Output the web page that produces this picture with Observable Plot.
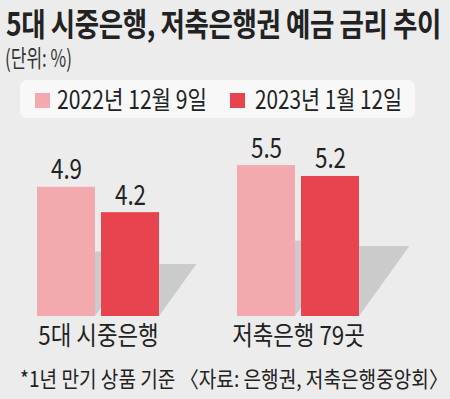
<!DOCTYPE html>
<html>
<head>
<meta charset="utf-8">
<script src="https://cdn.jsdelivr.net/npm/d3@7"></script>
<script src="https://cdn.jsdelivr.net/npm/@observablehq/plot@0.6"></script>
<style>
  html, body { margin: 0; padding: 0; }
  body { width: 450px; height: 399px; overflow: hidden; background: #ececec; position: relative;
         font-family: "Noto Sans CJK KR", "Noto Sans", sans-serif; color: #222; }
  .t { position: absolute; white-space: nowrap; display: inline-block; line-height: 1; transform-origin: 0 0; }
  #title { left: 6px; top: 6px; font-size: 32px; font-weight: 700; color: #222; letter-spacing: -0.5px; }
  #subtitle { left: 5px; top: 45px; font-size: 24px; color: #333; }
  #legend { position: absolute; left: 20px; top: 80px; width: 395px; height: 38px; background: #f8f8f8; border-radius: 7px; }
  .sw { position: absolute; width: 15px; height: 15px; }
  .lt { font-size: 25px; color: #222; }
  #caption { left: 20px; top: 366px; font-size: 22px; color: #222; }
  #chart { position: absolute; left: 0; top: 125px; }
</style>
</head>
<body>
<div id="title" class="t"></div>
<div id="subtitle" class="t"></div>
<div id="legend"></div>
<div id="chart"></div>
<div id="caption" class="t"></div>
<script>
// ---- data ----
const titleText = "5대 시중은행, 저축은행권 예금 금리 추이";
const subtitleText = "(단위: %)";
const captionText = "*1년 만기 상품 기준 〈자료: 은행권, 저축은행중앙회〉";
const groups = ["5대 시중은행", "저축은행 79곳"];
const series = ["2022년 12월 9일", "2023년 1월 12일"];
const values2022 = [4.9, 5.5];
const values2023 = [4.2, 5.2];
const colors = ["#f2aaae", "#e84450"];

// ---- scale / style settings ----
const BASE = 1.33;       // visual baseline of the bars
const SHADOW = 0.5;      // shadow height relative to bar
const SKEW = 0.72;       // shadow slant

const data = [];
groups.forEach((g, i) => {
  data.push({group: g, series: series[0], value: values2022[i]});
  data.push({group: g, series: series[1], value: values2023[i]});
});

function fit(el, w) {
  const r = el.getBoundingClientRect().width;
  el.style.transform = `scaleX(${w / r})`;
}

document.getElementById("title").textContent = titleText;
document.getElementById("subtitle").textContent = subtitleText;
document.getElementById("caption").textContent = captionText;

// legend
const legend = document.getElementById("legend");
const swX = [15, 210], txX = [37, 235], txW = [150, 147];
series.forEach((s, i) => {
  const sw = document.createElement("div");
  sw.className = "sw";
  sw.style.left = swX[i] + "px"; sw.style.top = "13px"; sw.style.background = colors[i];
  legend.appendChild(sw);
  const t = document.createElement("div");
  t.className = "t lt";
  t.style.left = txX[i] + "px"; t.style.top = "6px";
  t.textContent = s;
  legend.appendChild(t);
  fit(t, txW[i]);
});

fit(document.getElementById("title"), 435);
fit(document.getElementById("subtitle"), 67);
fit(document.getElementById("caption"), 428);

const chart = Plot.plot({
  width: 450, height: 240,
  marginLeft: 0, marginRight: 54, marginTop: 22, marginBottom: 49,
  style: {background: "transparent", fontFamily: "'Noto Sans CJK KR', sans-serif", color: "#222", overflow: "visible"},
  fx: {domain: groups, paddingInner: 0.39, paddingOuter: 0.185, label: null},
  x: {domain: series, paddingInner: 0.094, paddingOuter: 0, axis: null},
  y: {domain: [BASE, 6], axis: null},
  color: {domain: series, range: colors},
  marks: [
    Plot.barY(data, {
      fx: "group", x: "series", y1: BASE, y2: d => BASE + (d.value - BASE) * SHADOW,
      fill: "#cbcbcb", inset: 0,
      render(index, scales, values, dimensions, context, next) {
        const g = next(index, scales, values, dimensions, context);
        const ang = -Math.atan(SKEW) * 180 / Math.PI;
        g.querySelectorAll("rect").forEach(r => {
          const yb = +r.getAttribute("y") + +r.getAttribute("height");
          r.setAttribute("transform", `translate(0,${yb}) skewX(${ang}) translate(0,${-yb})`);
        });
        return g;
      }
    }),
    Plot.barY(data, {fx: "group", x: "series", y1: BASE, y2: "value", fill: "series", inset: 0}),
    Plot.text(data, {fx: "group", x: "series", y: "value", text: d => d3.format(".1f")(d.value),
      lineAnchor: "bottom", dy: -8, fontSize: 28, fill: "#222", className: "vlab"}),
    Plot.axisFx({anchor: "bottom", tickSize: 0, tickPadding: 10, fontSize: 26, label: null, className: "clab", fill: "#222"})
  ]
});
document.getElementById("chart").appendChild(chart);

function condense(sel, f) {
  chart.querySelectorAll(sel).forEach(t => {
    const w = t.getComputedTextLength();
    t.setAttribute("textLength", w * f);
    t.setAttribute("lengthAdjust", "spacingAndGlyphs");
  });
}
condense(".vlab text", 0.8);
condense(".clab text", 0.86);
</script>
</body>
</html>
